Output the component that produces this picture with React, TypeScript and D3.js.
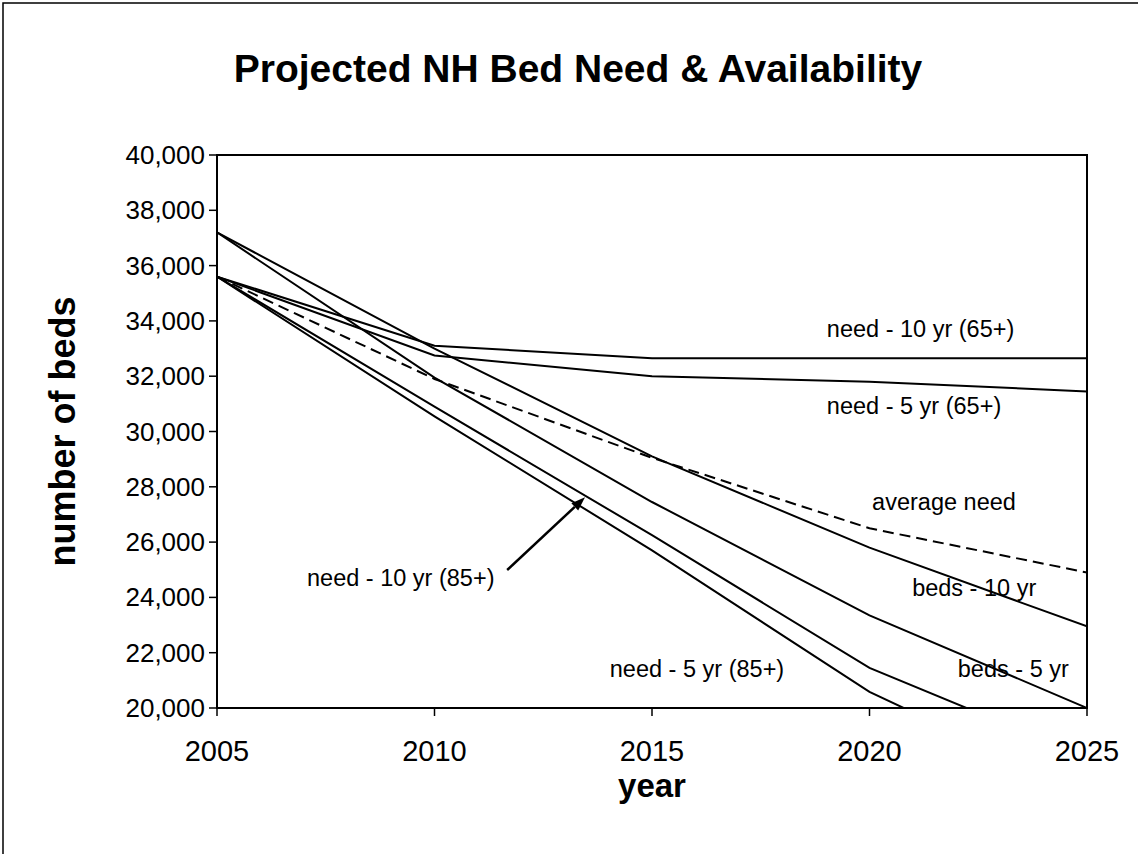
import React from "react";
import * as d3 from "d3";

const years = [2005, 2010, 2015, 2020, 2025];
const need10yr65 = [35600, 33100, 32650, 32650, 32650];
const need5yr65 = [35600, 32750, 32000, 31800, 31450];
const averageNeed = [35600, 31900, 29050, 26500, 24900];
const beds10yr = [37200, 33000, 29100, 25800, 22950];
const beds5yr = [37200, 31950, 27450, 23350, 20000];
const need10yr85 = [35600, 30900, 26250, 21450, 18200];
const need5yr85 = [35600, 30550, 25700, 20580, 16900];

const yTicks = [20000, 22000, 24000, 26000, 28000, 30000, 32000, 34000, 36000, 38000, 40000];
const xTicks = [2005, 2010, 2015, 2020, 2025];

const seriesList = [
  { name: "need - 10 yr (65+)", values: need10yr65, dashed: false },
  { name: "need - 5 yr (65+)", values: need5yr65, dashed: false },
  { name: "average need", values: averageNeed, dashed: true },
  { name: "beds - 10 yr", values: beds10yr, dashed: false },
  { name: "beds - 5 yr", values: beds5yr, dashed: false },
  { name: "need - 10 yr (85+)", values: need10yr85, dashed: false },
  { name: "need - 5 yr (85+)", values: need5yr85, dashed: false },
];

// label anchors in data coordinates (year, beds)
const labelTexts = [
  "need - 10 yr (65+)",
  "need - 5 yr (65+)",
  "average need",
  "beds - 10 yr",
  "beds - 5 yr",
  "need - 10 yr (85+)",
  "need - 5 yr (85+)",
];
const labelYears = [2019.02, 2019.02, 2020.06, 2020.98, 2022.03, 2007.07, 2014.03];
const labelValues = [33420, 30630, 27160, 24050, 21120, 24410, 21120];

const arrowFrom = [2011.67, 24990];
const arrowTo = [2013.46, 27620];

export default function App() {
  const W = 1138;
  const H = 854;
  const left = 217, right = 1087, top = 155, bottom = 708;
  const x = d3.scaleLinear().domain([2005, 2025]).range([left, right]);
  const y = d3.scaleLinear().domain([20000, 40000]).range([bottom, top]);
  const fmt = d3.format(",");
  const line = d3
    .line<number>()
    .x((_, i) => x(years[i]))
    .y((v) => y(v));

  const font = "'Liberation Sans', Arial, sans-serif";

  const ax = x(arrowFrom[0]), ay = y(arrowFrom[1]);
  const bx = x(arrowTo[0]), by = y(arrowTo[1]);
  const ang = Math.atan2(by - ay, bx - ax);
  const hl = 14, hw = 5;
  const baseX = bx - hl * Math.cos(ang), baseY = by - hl * Math.sin(ang);
  const head = [
    [bx, by],
    [baseX + hw * Math.sin(ang), baseY - hw * Math.cos(ang)],
    [baseX - hw * Math.sin(ang), baseY + hw * Math.cos(ang)],
  ];

  return (
    <svg
      width={W}
      height={H}
      style={{ position: "absolute", left: 0, top: 0, background: "#fff" }}
      fontFamily={font}
    >
      <rect x={0} y={0} width={W} height={H} fill="#fff" />
      <rect x={3} y={3} width={W + 10} height={H + 10} fill="none" stroke="#000" strokeWidth={1.5} />
      <text x={578} y={82} textAnchor="middle" fontSize={39} fontWeight="bold" fill="#000">
        Projected NH Bed Need &amp; Availability
      </text>

      <defs>
        <clipPath id="plotclip">
          <rect x={left} y={top} width={right - left} height={bottom - top} />
        </clipPath>
      </defs>

      <rect x={left} y={top} width={right - left} height={bottom - top} fill="none" stroke="#000" strokeWidth={2} />

      {yTicks.map((t) => (
        <g key={"y" + t}>
          <line x1={left - 8} x2={left} y1={y(t)} y2={y(t)} stroke="#000" strokeWidth={1.5} />
          <text x={left - 12} y={y(t) + 9} textAnchor="end" fontSize={26} fill="#000">
            {fmt(t)}
          </text>
        </g>
      ))}
      {xTicks.map((t) => (
        <g key={"x" + t}>
          <line x1={x(t)} x2={x(t)} y1={bottom} y2={bottom + 8} stroke="#000" strokeWidth={1.5} />
          <text x={x(t)} y={bottom + 53} textAnchor="middle" fontSize={29} fill="#000">
            {t}
          </text>
        </g>
      ))}

      <text x={652} y={797} textAnchor="middle" fontSize={33} fontWeight="bold" fill="#000">
        year
      </text>
      <text
        transform={`translate(75, ${(top + bottom) / 2}) rotate(-90)`}
        textAnchor="middle"
        fontSize={36}
        fontWeight="bold"
        fill="#000"
      >
        number of beds
      </text>

      <g clipPath="url(#plotclip)">
        {seriesList.map((s) => (
          <path
            key={s.name}
            d={line(s.values) || ""}
            fill="none"
            stroke="#000"
            strokeWidth={2}
            strokeDasharray={s.dashed ? "11,6" : undefined}
          />
        ))}
      </g>

      {labelTexts.map((t, i) => (
        <text key={t} x={x(labelYears[i])} y={y(labelValues[i])} fontSize={23.5} fill="#000">
          {t}
        </text>
      ))}

      <line x1={ax} y1={ay} x2={baseX} y2={baseY} stroke="#000" strokeWidth={2.5} />
      <polygon points={head.map((p) => p.join(",")).join(" ")} fill="#000" />
    </svg>
  );
}
